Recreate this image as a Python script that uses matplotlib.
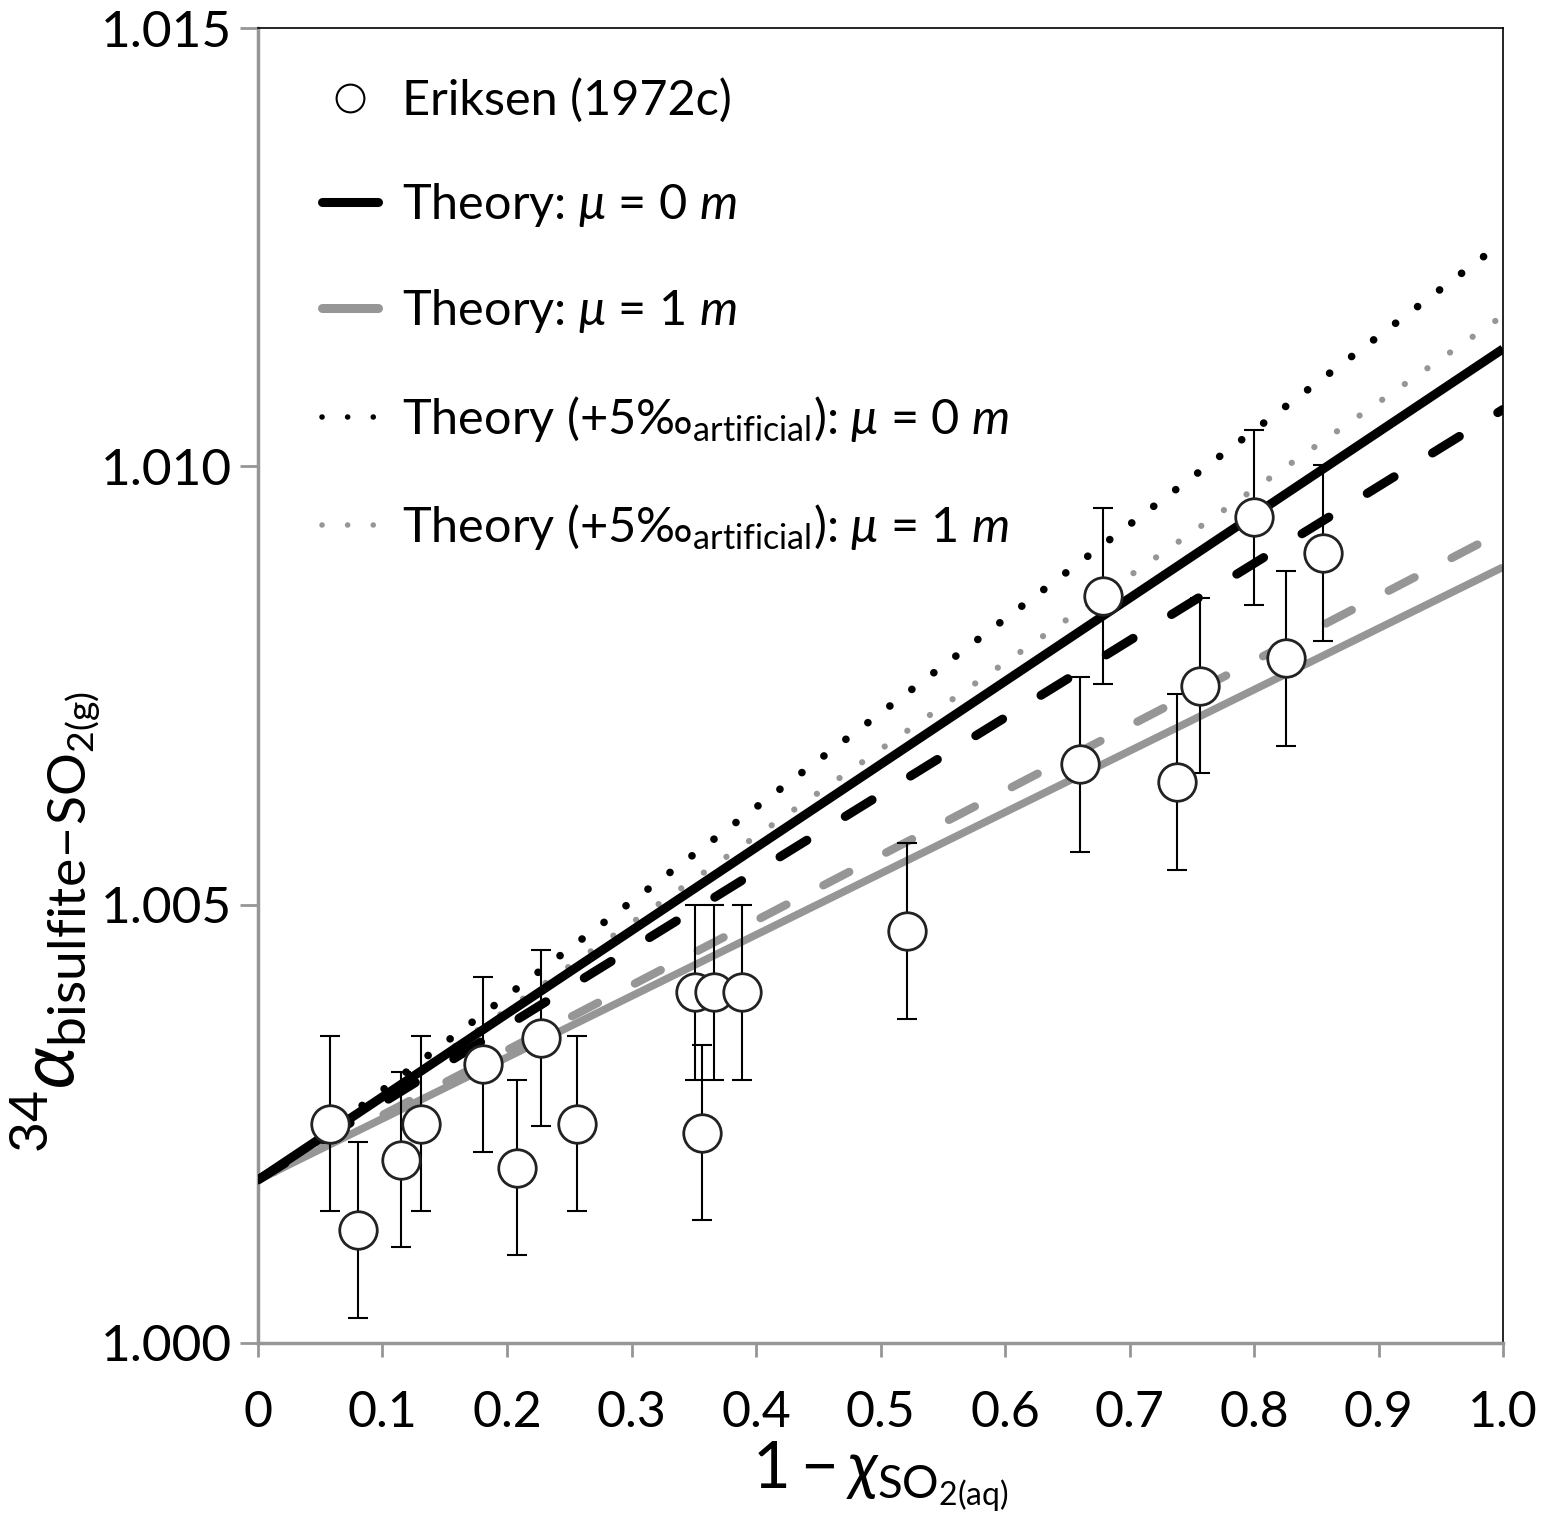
import matplotlib.pyplot as plt
from matplotlib.lines import Line2D

plt.rcParams['font.family'] = ['Lato', 'DejaVu Sans']
plt.rcParams['mathtext.fontset'] = 'custom'
plt.rcParams['mathtext.rm'] = 'Lato'
plt.rcParams['mathtext.it'] = 'Lato:italic'
plt.rcParams['mathtext.bf'] = 'Lato:bold'

# Eriksen (1972c) data
eriksen_x = [0.058, 0.080, 0.115, 0.131, 0.181, 0.208, 0.227, 0.256, 0.351, 0.357,
             0.366, 0.389, 0.521, 0.660, 0.679, 0.738, 0.757, 0.800, 0.826, 0.855]
eriksen_y = [1.00250, 1.00129, 1.00209, 1.00250, 1.00318, 1.00200, 1.00348, 1.00250, 1.00400, 1.00240,
             1.00400, 1.00400, 1.00470, 1.00660, 1.00852, 1.00640, 1.00750, 1.00942, 1.00781, 1.00901]
eriksen_err = [0.001] * 20

# theory lines (end points)
line_x = [0.0, 1.0]
mu0 = [1.00186, 1.01134]
mu0_dashed = [1.00186, 1.01065]
mu1 = [1.00186, 1.00885]
mu1_dashed = [1.00186, 1.00926]
dot_x = [0.013, 1.0]
mu0_art = [1.00195, 1.01256]
mu1_art = [1.00195, 1.01172]

fig = plt.figure(figsize=(15.43, 15.23), dpi=100)
ax = fig.add_axes([0.1672, 0.1182, 0.8069, 0.8634])

black = '#000000'
gray = '#969696'

ax.plot(dot_x, mu0_art, color=black, lw=5.5, linestyle=(0, (0.01, 3.6)),
        dash_capstyle='round', zorder=2)
ax.plot(dot_x, mu1_art, color=gray, lw=4.5, linestyle=(0, (0.01, 4.4)),
        dash_capstyle='round', zorder=2)
ax.plot(line_x, mu1, color=gray, lw=5.5, solid_capstyle='butt', zorder=2)
ax.plot(line_x, mu1_dashed, color=gray, lw=6, linestyle=(0, (3.5, 5.0)),
        dash_capstyle='round', zorder=2)
ax.plot(line_x, mu0, color=black, lw=6.5, solid_capstyle='butt', zorder=3)
ax.plot(line_x, mu0_dashed, color=black, lw=6.5, linestyle=(0, (3.5, 5.0)),
        dash_capstyle='round', zorder=3)

ax.errorbar(eriksen_x, eriksen_y, yerr=eriksen_err, fmt='none', ecolor='black',
            elinewidth=1.5, capsize=7, capthick=1.5, zorder=4)
ax.plot(eriksen_x, eriksen_y, 'o', ms=27, mfc='white', mec='#222222', mew=2, zorder=5)

ax.set_xlim(0, 1.0)
ax.set_ylim(1.000, 1.015)
ax.set_xticks([0, 0.1, 0.2, 0.3, 0.4, 0.5, 0.6, 0.7, 0.8, 0.9, 1.0])
ax.set_xticklabels(['0', '0.1', '0.2', '0.3', '0.4', '0.5', '0.6', '0.7', '0.8', '0.9', '1.0'])
ax.set_yticks([1.000, 1.005, 1.010, 1.015])
ax.set_yticklabels(['1.000', '1.005', '1.010', '1.015'])
ax.tick_params(axis='x', direction='out', length=10, width=2, color=gray,
               labelsize=36, pad=24)
ax.tick_params(axis='y', direction='out', length=13, width=2, color=gray,
               labelsize=37, pad=6)
for side in ['left', 'bottom']:
    ax.spines[side].set_color(gray)
    ax.spines[side].set_linewidth(2.5)
for side in ['top', 'right']:
    ax.spines[side].set_color('black')
    ax.spines[side].set_linewidth(1.2)

ax.set_xlabel(r'$1-\chi_{\mathrm{SO}_{2(\mathrm{aq})}}$', fontsize=47, labelpad=2)
ax.set_ylabel(r'$^{34}\alpha_{\mathrm{bisulfite\!-\!SO}_{2(\mathrm{g})}}$', fontsize=55)
ax.yaxis.set_label_coords(-0.125, 0.32)

handles = [
    Line2D([], [], marker='o', ls='none', ms=20, mfc='white', mec='black', mew=1.5),
    Line2D([], [], color=black, lw=6.5, solid_capstyle='round'),
    Line2D([], [], color=gray, lw=6.5, solid_capstyle='round'),
    Line2D([], [], color=black, lw=4, linestyle=(0, (0.01, 4.6)), dash_capstyle='round'),
    Line2D([], [], color=gray, lw=4, linestyle=(0, (0.01, 4.6)), dash_capstyle='round'),
]
labels = [
    'Eriksen (1972c)',
    r'Theory: $\mu$ = 0 $m$',
    r'Theory: $\mu$ = 1 $m$',
    r'Theory (+5‰$_{\mathrm{artificial}}$): $\mu$ = 0 $m$',
    r'Theory (+5‰$_{\mathrm{artificial}}$): $\mu$ = 1 $m$',
]
ax.legend(handles, labels, loc='upper left', frameon=False, fontsize=35,
          handlelength=1.15, handletextpad=0.5, labelspacing=1.2,
          borderaxespad=0.0, bbox_to_anchor=(0.036, 0.977))

fig.savefig('out.png', dpi=100)
